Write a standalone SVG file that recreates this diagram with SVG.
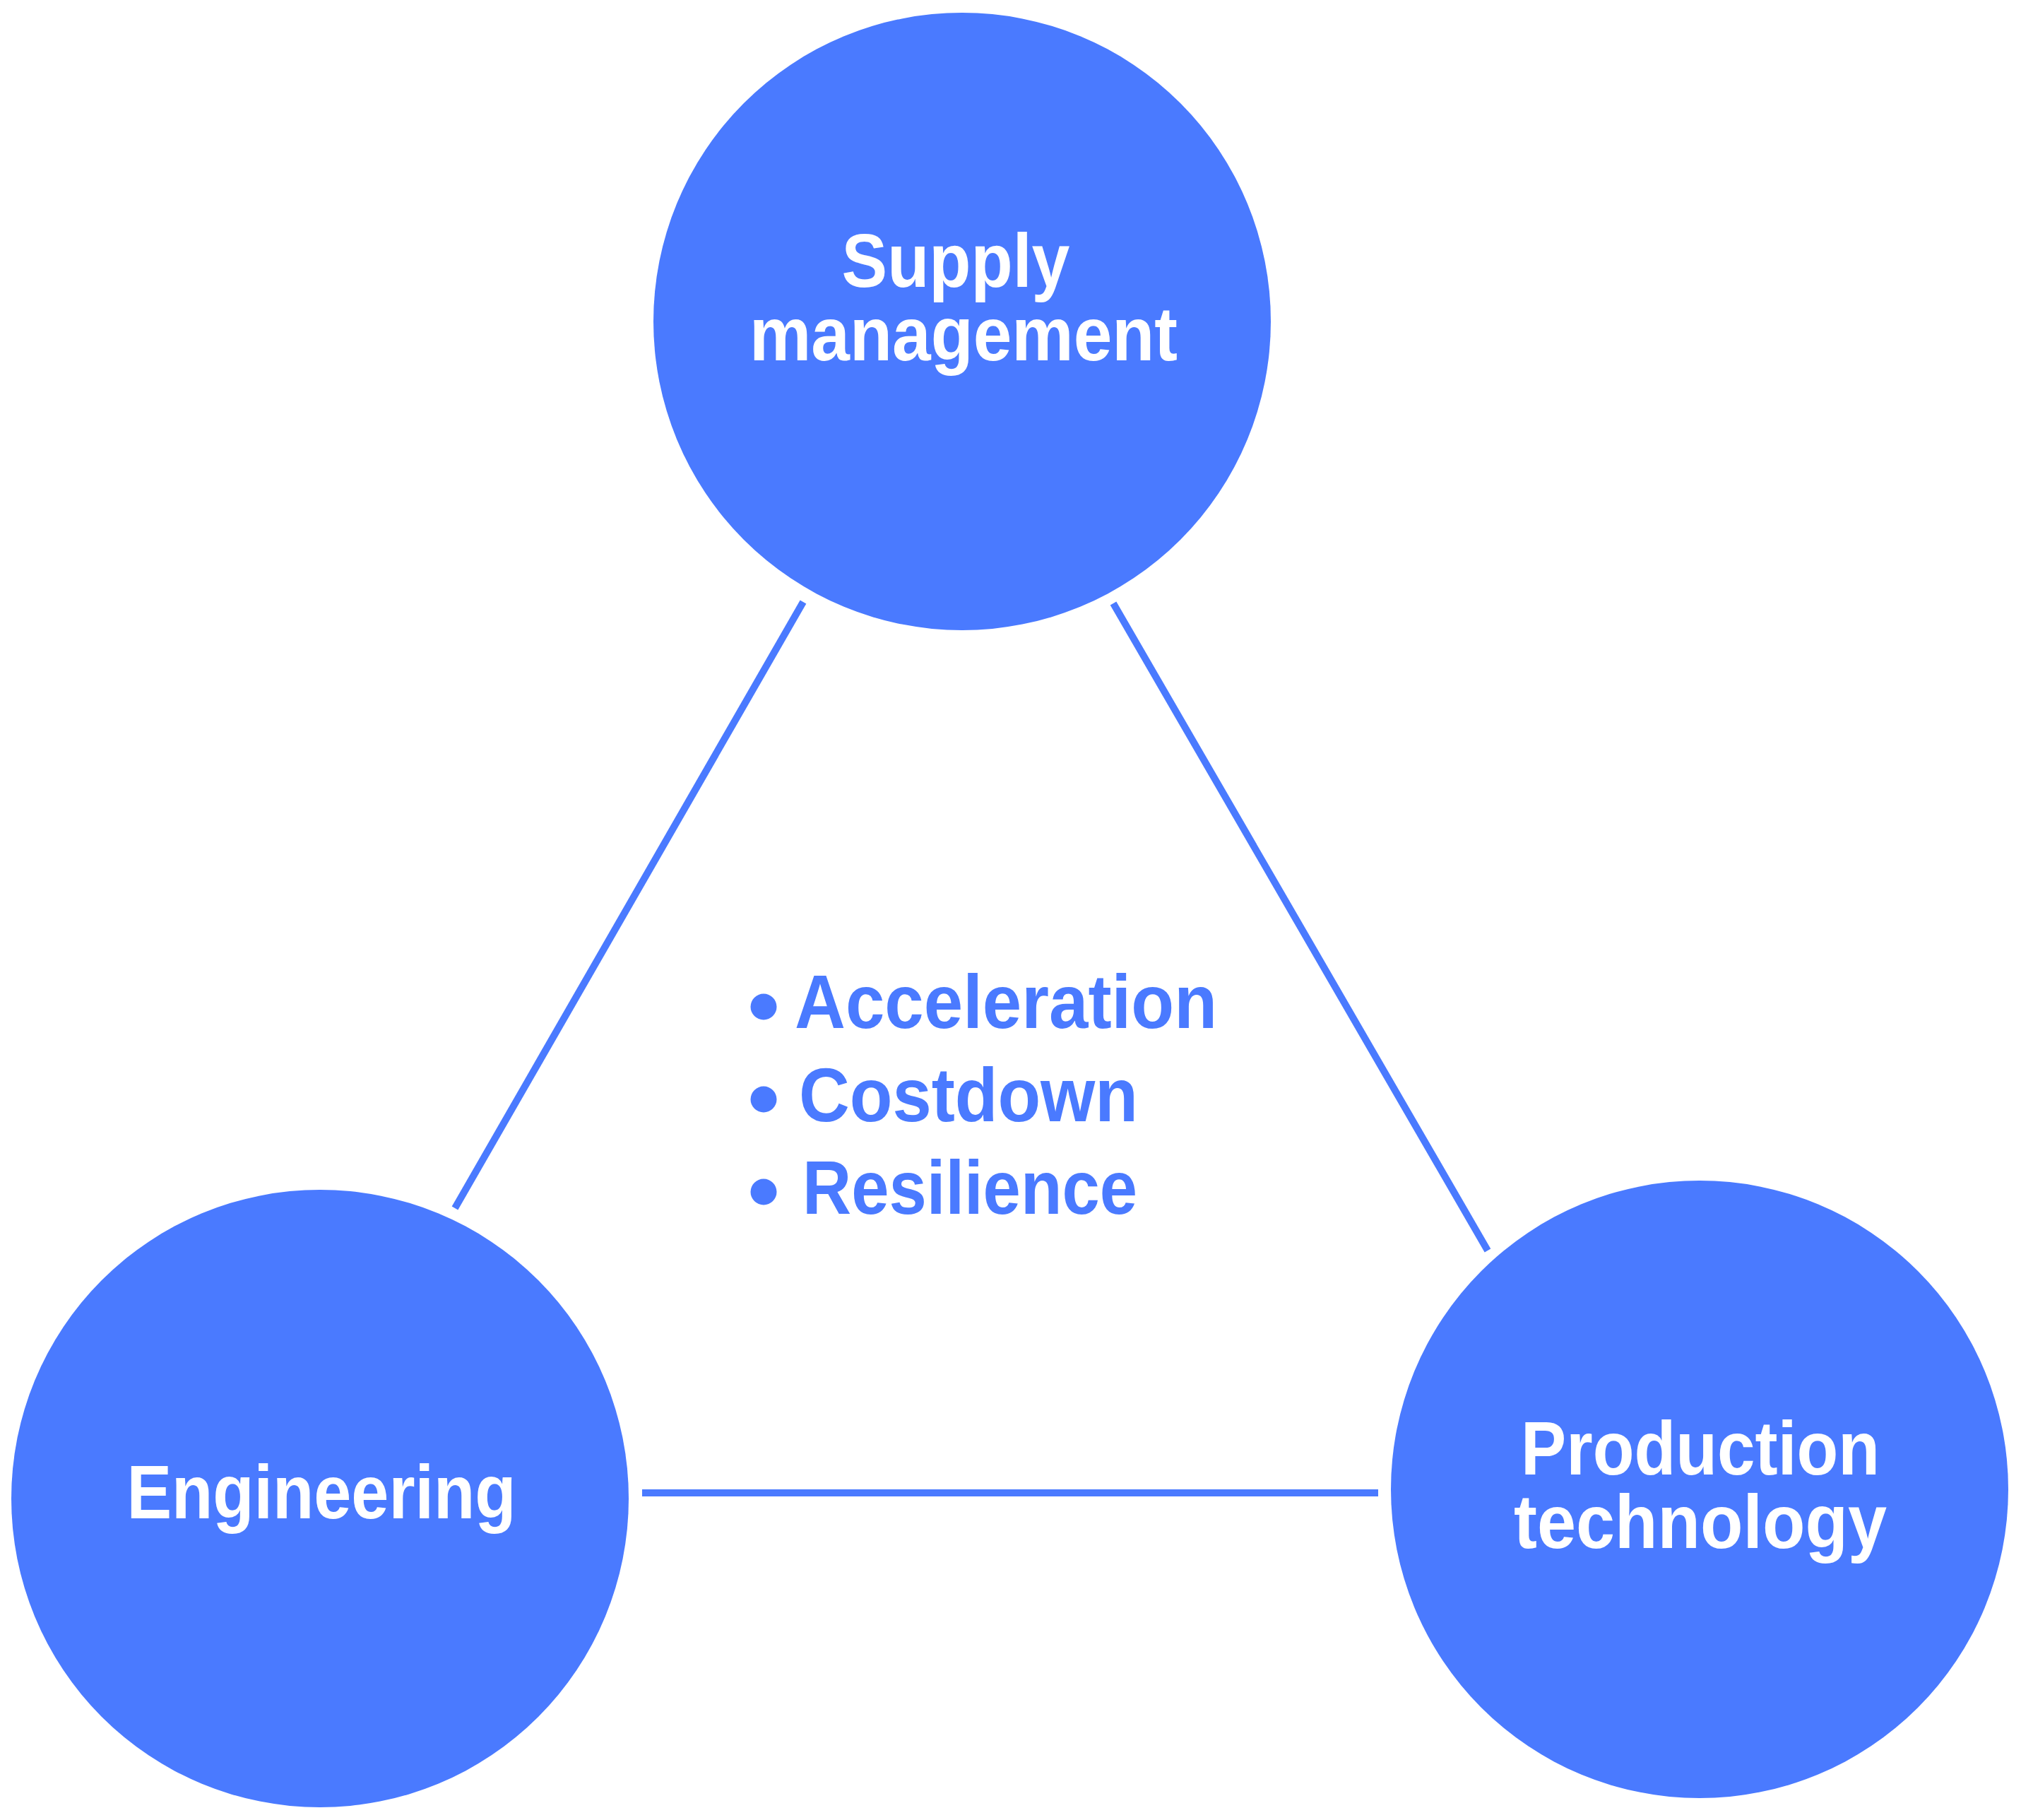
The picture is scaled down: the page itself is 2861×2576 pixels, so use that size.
<svg xmlns="http://www.w3.org/2000/svg" width="2861" height="2576" viewBox="0 0 2861 2576">
<style>
.node{fill:#4A7AFF}
.lbl{font-family:"Liberation Sans",Arial,sans-serif;font-weight:bold;font-size:107px;fill:#FFFFFF;text-anchor:middle}
.item{font-family:"Liberation Sans",Arial,sans-serif;font-weight:bold;font-size:107px;fill:#4A7AFF}
.conn{stroke:#4A7AFF;stroke-width:10;fill:none}
</style>
<rect width="2861" height="2576" fill="#FFFFFF"/>
<g id="connectors">
<line class="conn" x1="1137" y1="852" x2="644" y2="1710"/>
<line class="conn" x1="1576" y1="854" x2="2106" y2="1770"/>
<line class="conn" x1="909" y1="2113" x2="1951" y2="2113"/>
</g>
<g id="supply">
<circle class="node" cx="1362" cy="455" r="437"/>
<text class="lbl" x="1353" y="406" textLength="323" lengthAdjust="spacingAndGlyphs">Supply</text>
<text class="lbl" x="1364" y="510" textLength="606" lengthAdjust="spacingAndGlyphs">management</text>
</g>
<g id="engineering">
<circle class="node" cx="453" cy="2121" r="437"/>
<text class="lbl" x="455" y="2149" textLength="551" lengthAdjust="spacingAndGlyphs">Engineering</text>
</g>
<g id="production">
<circle class="node" cx="2406" cy="2108" r="437"/>
<text class="lbl" x="2407" y="2087" textLength="508" lengthAdjust="spacingAndGlyphs">Production</text>
<text class="lbl" x="2407" y="2191" textLength="528" lengthAdjust="spacingAndGlyphs">technology</text>
</g>
<g id="goals">
<circle class="node" cx="1081" cy="1425" r="18.5"/>
<circle class="node" cx="1081" cy="1556" r="18.5"/>
<circle class="node" cx="1081" cy="1687" r="18.5"/>
<text class="item" x="1125" y="1455" textLength="598" lengthAdjust="spacingAndGlyphs">Acceleration</text>
<text class="item" x="1131" y="1587" textLength="480" lengthAdjust="spacingAndGlyphs">Costdown</text>
<text class="item" x="1136" y="1718" textLength="474" lengthAdjust="spacingAndGlyphs">Resilience</text>
</g>
</svg>
